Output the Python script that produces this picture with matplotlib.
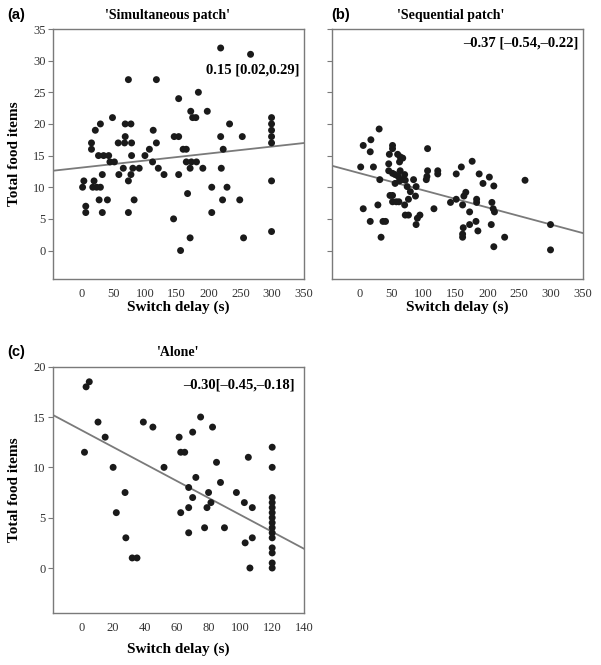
import numpy as np
import matplotlib.pyplot as plt
import matplotlib as mpl

mpl.rcParams['font.family'] = ['Liberation Serif', 'DejaVu Serif']

# (a) 'Simultaneous patch'
sim_delay = [2, 4, 7, 7, 16, 16, 18, 20, 22, 24, 27, 28, 30, 30, 33, 33, 35, 41, 43, 45,
             49, 52, 58, 59, 66, 68, 69, 69, 74, 74, 74, 78, 78, 79, 79, 81, 83, 91, 100, 107,
             112, 113, 118, 118, 121, 130, 145, 146, 153, 153, 153, 156, 160, 165, 165, 167, 171, 171, 172, 173,
             175, 180, 181, 184, 191, 198, 205, 205, 219, 219, 220, 223, 222, 229, 233, 249, 253, 255, 266,
             299, 299, 299, 299, 299, 299, 299]
sim_food = [10, 11, 7, 6, 17, 16, 10, 11, 19, 10, 15, 8, 20, 10, 12, 6, 15, 8, 15, 14,
            21, 14, 17, 12, 13, 17, 20, 18, 11, 6, 27, 20, 12, 15, 17, 13, 8, 13, 15, 16,
            14, 19, 17, 27, 13, 12, 5, 18, 18, 24, 12, 0, 16, 16, 14, 9, 13, 2, 22, 14,
            21, 21, 14, 25, 13, 22, 10, 6, 32, 18, 13, 16, 8, 10, 20, 8, 18, 2, 31,
            21, 20, 19, 18, 17, 11, 3]

# (b) 'Sequential patch'
seq_delay = [1, 5, 5, 16, 16, 17, 21, 28, 30, 31, 33, 36, 40, 45, 45, 46, 47, 51, 51, 51,
             51, 51, 55, 55, 57, 59, 60, 61, 62, 62, 63, 63, 65, 67, 70, 70, 71, 71, 74, 76,
             76, 79, 84, 87, 88, 88, 90, 94, 104, 105, 106, 106, 116, 122, 122, 142, 151, 151, 159, 161,
             161, 161, 162, 163, 166, 172, 172, 176, 182, 183, 183, 185, 187, 193, 203, 206, 207, 209, 210, 210,
             211, 227, 259, 299, 299]
seq_food = [13.2, 16.6, 6.6, 15.6, 4.6, 17.5, 13.2, 7.2, 19.2, 11.2, 2.1, 4.6, 4.6, 13.7, 12.6, 15.2, 8.7, 16.6, 16.1, 12.2,
            8.7, 7.7, 12.0, 10.6, 7.7, 15.2, 11.7, 7.7, 14.0, 11.0, 14.8, 12.6, 11.2, 14.6, 12.0, 7.2, 11.1, 5.6, 10.1, 8.1,
            5.6, 9.3, 11.2, 8.6, 10.1, 4.1, 5.1, 5.6, 11.2, 11.7, 16.1, 12.6, 6.6, 12.6, 12.1, 7.6, 12.1, 8.1, 13.2, 7.2,
            2.6, 2.1, 3.6, 8.6, 9.2, 6.1, 4.1, 14.1, 4.6, 8.1, 7.6, 3.1, 12.1, 10.6, 11.6, 4.1, 7.6, 6.6, 10.2, 0.6,
            6.1, 2.1, 11.1, 4.1, 0.1]

# (c) 'Alone'
alone_delay = [2, 3, 5, 10.5, 15, 20, 22, 27.5, 28, 32, 35, 39, 45, 52, 61.5, 62.5, 62.5, 65, 67.5, 67.5,
               67.5, 70, 70, 72, 75, 77.5, 79, 80, 81.5, 82.5, 85, 87.5, 90, 97.5, 102.5, 103, 105, 106, 107.5, 107.5,
               120, 120, 120, 120, 120, 120, 120, 120, 120, 120, 120, 120, 120, 120, 120]
alone_food = [11.5, 18, 18.5, 14.5, 13, 10, 5.5, 7.5, 3, 1, 1, 14.5, 14, 10, 13, 11.5, 5.5, 11.5, 8, 6,
              3.5, 13.5, 7, 9, 15, 4, 6, 7.5, 6.5, 14, 10.5, 8.5, 4, 7.5, 6.5, 2.5, 11, 0, 6, 3,
              12, 10, 7, 6.5, 6, 5.5, 5, 4.5, 4, 3.5, 3, 2, 1.5, 0.5, 0]

# fitted lines (intercept, slope)
fit_sim = (13.1, 0.0111)
fit_seq = (12.2, -0.027)
fit_alone = (13.7, -0.0842)

effects = ['0.15 [0.02,0.29]', '\u20130.37 [\u20130.54,\u20130.22]', '\u20130.30[\u20130.45,\u20130.18]']

GREY = '#7a7a7a'

fig = plt.figure(figsize=(6.01, 6.65), dpi=100)
W, H = 601.0, 665.0

def make_ax(l, r, t, b):
	return fig.add_axes([l/W, 1-b/H, (r-l)/W, (b-t)/H])

axA = make_ax(53, 304, 29, 279)
axB = make_ax(331.7, 583, 29, 279)
axC = make_ax(53, 304, 366.7, 613.3)

def style(ax, xlim, ylim, xticks, yticks, ylabels=True):
	ax.set_xlim(xlim)
	ax.set_ylim(ylim)
	ax.set_xticks(xticks)
	ax.set_yticks(yticks)
	for sp in ax.spines.values():
		sp.set_color(GREY)
		sp.set_linewidth(1.0)
	ax.tick_params(axis='x', length=0, pad=6.5, labelsize=9, labelcolor='#333333')
	ax.tick_params(axis='y', direction='out', length=3.6, width=0.8, color=GREY, pad=1.5,
				   labelsize=9, labelcolor='#333333')
	if not ylabels:
		ax.set_yticklabels([])

def draw(ax, x, y, fit):
	ax.scatter(x, y, s=25, color='#1a1a1a', edgecolors='none', zorder=3)
	xs = np.array(ax.get_xlim())
	ax.plot(xs, fit[0] + fit[1]*xs, color=GREY, lw=1.3, zorder=2)

style(axA, (-44.5, 350), (-4.5, 35), range(0, 351, 50), range(0, 36, 5))
style(axB, (-44.5, 350), (-4.5, 35), range(0, 351, 50), range(0, 36, 5), ylabels=False)
style(axC, (-17.8, 140), (-4.5, 20), range(0, 141, 20), range(0, 21, 5))

draw(axA, sim_delay, sim_food, fit_sim)
draw(axB, seq_delay, seq_food, fit_seq)
draw(axC, alone_delay, alone_food, fit_alone)

titles = ["'Simultaneous patch'", "'Sequential patch'", "'Alone'"]
title_x = [0.456, 0.474, 0.5]
for ax, t, tx in zip([axA, axB, axC], titles, title_x):
	ax.set_title(t, fontsize=10, fontweight='bold', pad=7.5)
	ax.title.set_x(tx)
	ax.set_xlabel('Switch delay (s)', fontsize=11, fontweight='bold')

axA.xaxis.set_label_coords(0.5, -0.085)
axB.xaxis.set_label_coords(0.5, -0.085)
axC.xaxis.set_label_coords(0.5, -0.12)
for ax in [axA, axC]:
	ax.set_ylabel('Total food items', fontsize=11, fontweight='bold')
	ax.yaxis.set_label_coords(-0.129, 0.5)

# effect sizes
axA.text(0.984, 0.836, effects[0], transform=axA.transAxes, ha='right', va='center',
		 fontsize=10.5, fontweight='bold')
axB.text(0.984, 0.944, effects[1], transform=axB.transAxes, ha='right', va='center',
		 fontsize=10.5, fontweight='bold')
axC.text(0.964, 0.926, effects[2], transform=axC.transAxes, ha='right', va='center',
		 fontsize=10.5, fontweight='bold')

# panel letters
for lab, px, py in [('(a)', 7, 15), ('(b)', 331.7, 15), ('(c)', 7, 352.3)]:
	fig.text(px/W, 1-py/H, lab, ha='left', va='center', fontsize=10.5, fontweight='bold',
			 family=['Liberation Sans', 'DejaVu Sans'])

fig.savefig('out.png', dpi=100)
